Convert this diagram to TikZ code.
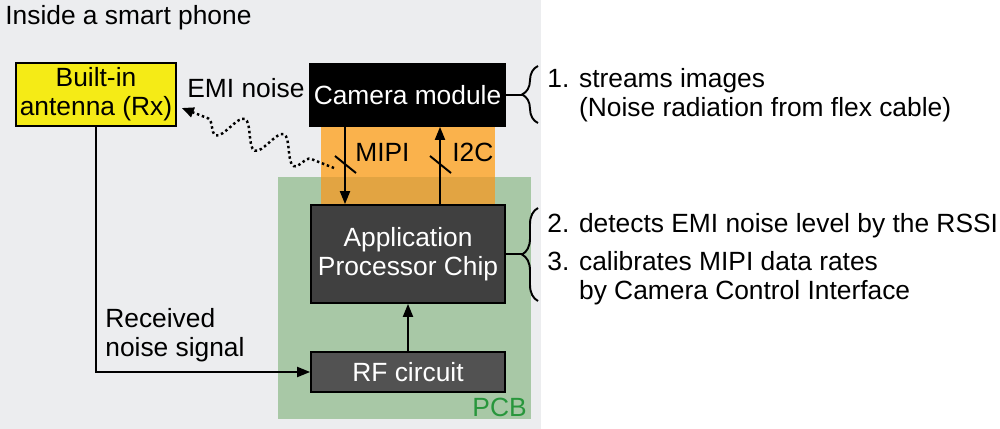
\documentclass[tikz,border=0pt]{standalone}
\usepackage{fontspec}
\setmainfont{Liberation Sans}
\usetikzlibrary{arrows.meta,decorations.pathmorphing,decorations.pathreplacing}
\definecolor{phonegray}{RGB}{236,237,239}
\definecolor{antyellow}{RGB}{245,235,22}
\definecolor{flexorange}{RGB}{250,178,76}
\definecolor{flexdark}{RGB}{226,164,66}
\definecolor{pcbgreen}{RGB}{168,200,166}
\definecolor{pcbtext}{RGB}{40,150,60}
\definecolor{chipgray}{RGB}{64,64,64}
\definecolor{rfgray}{RGB}{82,82,82}

\begin{document}
\begin{tikzpicture}[
    x=0.02cm, y=-0.02cm,
    every node/.style={font=\fontsize{15}{16.5}\selectfont, inner sep=0pt},
    box/.style={draw, line width=1pt, align=center},
    arrow/.style={-{Triangle[length=2.6mm,width=2mm]}, line width=1.1pt},
    brace/.style={decorate, decoration={brace, amplitude=0.32cm}, line width=1.1pt},
    emi/.style={line width=1.4pt, dash pattern=on 1.4pt off 1.6pt,
                decorate, decoration={snake, amplitude=0.26cm,
                segment length=0.84cm, pre length=0.5cm, post length=0.3cm},
                -{Triangle[length=2.4mm,width=2mm]}},
  ]
  \useasboundingbox (0,0) rectangle (1000,429);
  % phone, PCB and flex cable areas
  \fill[phonegray] (0,0) rectangle (541,429);
  \fill[pcbgreen] (278,177) rectangle (531,419);
  \fill[flexorange] (321,126) rectangle (495,177);
  \fill[flexdark] (321,177) rectangle (495,205);
  \node[anchor=west] (title) at (5,18) {Inside a smart phone};
  \node[text=pcbtext, anchor=east] (pcb) at (527,407) {PCB};

  % blocks
  \node[box, fill=antyellow, minimum width=3.2cm, minimum height=1.26cm]
    (ant) at (96,94.5) {Built-in\\antenna (Rx)};
  \node[box, fill=black, text=white, minimum width=3.9cm, minimum height=1.24cm]
    (cam) at (407.5,95) {Camera module};
  \node[box, fill=chipgray, text=white, minimum width=3.88cm, minimum height=1.96cm]
    (app) at (408,254) {Application\\Processor Chip};
  \node[box, fill=rfgray, text=white, minimum width=3.88cm, minimum height=0.8cm]
    (rf) at (408,372) {RF circuit};

  % buses
  \draw[arrow] (cam.south -| 345,0) -- (app.north -| 345,0);
  \draw[arrow] (app.north -| 440,0) -- (cam.south -| 440,0);
  \draw[line width=1.1pt] (335,156) -- (356,173);
  \draw[line width=1.1pt] (430,156) -- (451,173);
  \node[anchor=west] (mipi) at (355,152) {MIPI};
  \node[anchor=west] (i2c) at (452,152) {I2C};

  % received signal
  \coordinate (corner) at (ant.south |- rf.west);
  \draw[arrow] (ant.south) -- (corner) -- (rf.west);
  \node[anchor=west, align=left] (rx) at (105,335) {Received\\noise signal};
  \draw[arrow] (rf.north) -- (app.south);

  % EMI noise
  \coordinate (src) at (334,168);
  \draw[emi] (src) -- ([xshift=0.1cm, yshift=-0.27cm]ant.east);
  \node[anchor=west] (emilbl) at (187,88) {EMI noise};

  % braces and steps
  \coordinate (b1) at (522,95);
  \coordinate (b2) at (522,254);
  \draw[line width=1.1pt] (cam.east) -- (b1);
  \draw[line width=1.1pt] (app.east) -- (b2);
  \draw[brace] (538,123) -- (538,66);
  \draw[brace] (538,301) -- (538,208);
  \node[anchor=west, align=left] (s1) at (547,95)
    {1. streams images\\\phantom{1. }(Noise radiation from flex cable)};
  \node[anchor=west] (s2) at (547,226) {2. detects EMI noise level by the RSSI};
  \node[anchor=west, align=left] (s3) at (547,278)
    {3. calibrates MIPI data rates\\\phantom{3. }by Camera Control Interface};
\end{tikzpicture}
\end{document}
